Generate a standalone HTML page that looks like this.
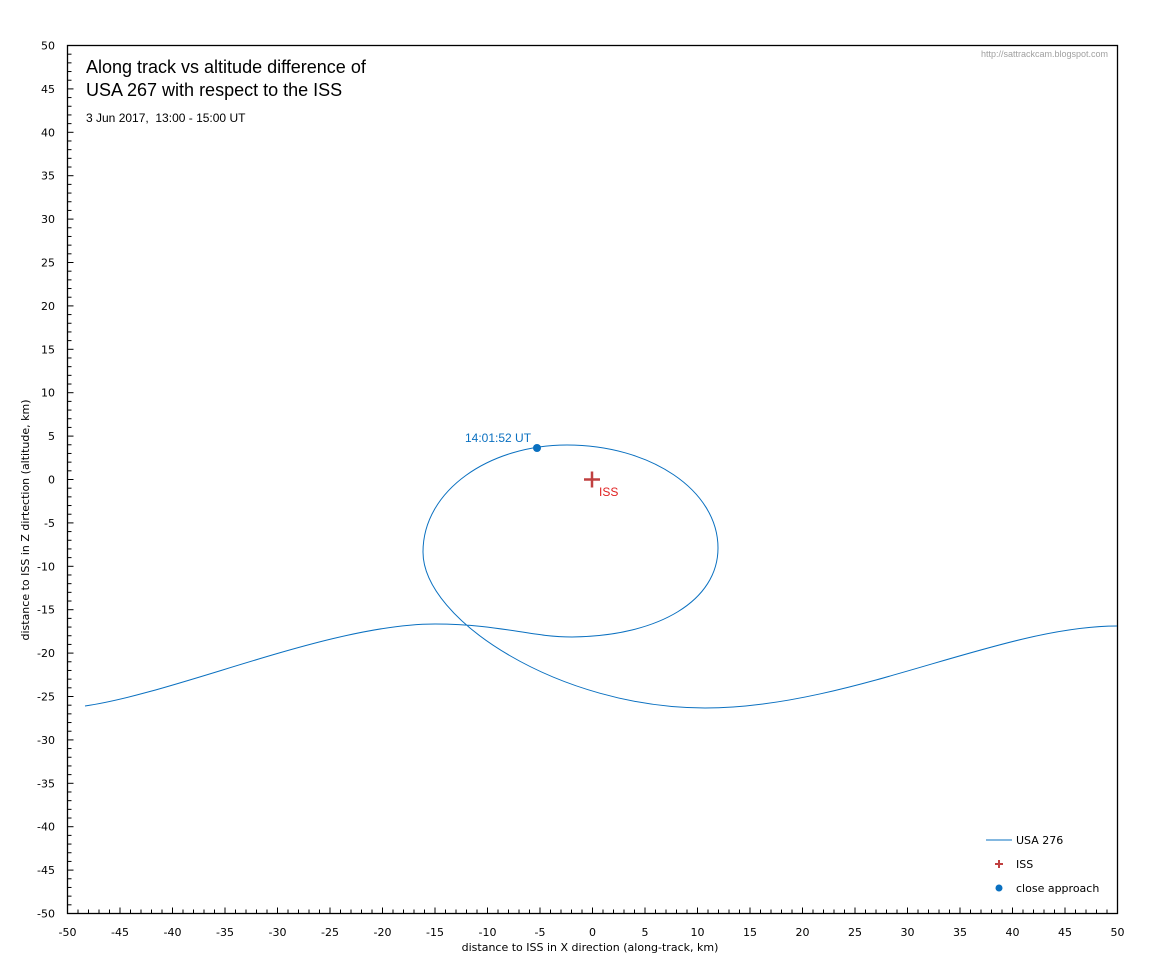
<!DOCTYPE html>
<html><head><meta charset="utf-8"><style>
html,body{margin:0;padding:0;background:#fff;}
svg{display:block;font-family:"DejaVu Sans","Liberation Sans",sans-serif;}
</style></head><body>
<svg id="s" width="1166" height="959" xmlns="http://www.w3.org/2000/svg">
<rect x="0" y="0" width="1166" height="959" fill="#fff"/>
<g id="ticks" stroke="#000" stroke-width="1"></g>
<g id="labels" font-size="11" fill="#000"></g>
<rect x="67.5" y="45.5" width="1050" height="868" fill="none" stroke="#000" stroke-width="1.3"/>
<path d="M85,706 C180,692 330,624 435,624 C500,624 530,637 572,637 C660,636 718,600 718,548 C718,490 650,445 567,445 C490,445 423,490 423,552 C423,620 560,708 705,708 C850,708 1000,626 1117,626" fill="none" stroke="#0a70c0" stroke-width="1"/>
<circle cx="537" cy="448" r="4" fill="#0a70c0"/>
<text x="465" y="442" font-family="Liberation Sans,sans-serif" font-size="12" fill="#0a70c0">14:01:52 UT</text>
<path d="M584,479.5 H600 M592,471.5 V487.5" stroke="#c04040" stroke-width="2.5"/>
<text x="599" y="496" font-family="Liberation Sans,sans-serif" font-size="12" fill="#e02020">ISS</text>
<text x="86" y="73" font-family="Liberation Sans,sans-serif" font-size="18">Along track vs altitude difference of</text>
<text x="86" y="96" font-family="Liberation Sans,sans-serif" font-size="18">USA 267 with respect to the ISS</text>
<text x="86" y="122" font-family="Liberation Sans,sans-serif" font-size="12">3 Jun 2017, &#160;13:00 - 15:00 UT</text>
<text x="1108" y="57" text-anchor="end" font-family="Liberation Sans,sans-serif" font-size="9" fill="#a0a0a0">http://sattrackcam.blogspot.com</text>
<line x1="986" y1="840" x2="1012" y2="840" stroke="#0a70c0" stroke-width="1"/>
<text x="1016" y="844" font-size="11">USA 276</text>
<path d="M995,864 H1003 M999,860 V868" stroke="#c04040" stroke-width="2"/>
<text x="1016" y="868" font-size="11">ISS</text>
<circle cx="999" cy="888" r="3.5" fill="#0a70c0"/>
<text x="1016" y="892" font-size="11">close approach</text>
<text x="590" y="951" text-anchor="middle" font-size="11">distance to ISS in X direction  (along-track, km)</text>
<text transform="translate(29,520) rotate(-90)" text-anchor="middle" font-size="11">distance to ISS in Z dirtection   (altitude, km)</text>
</svg>
<script>
var t=document.getElementById('ticks'),l=document.getElementById('labels'),ns='http://www.w3.org/2000/svg';
function ln(x1,y1,x2,y2){var e=document.createElementNS(ns,'line');e.setAttribute('x1',x1);e.setAttribute('y1',y1);e.setAttribute('x2',x2);e.setAttribute('y2',y2);t.appendChild(e);}
function tx(x,y,s,a){var e=document.createElementNS(ns,'text');e.setAttribute('x',x);e.setAttribute('y',y);e.setAttribute('text-anchor',a);e.textContent=s;l.appendChild(e);}
for(var v=-50;v<=50;v++){
 var x=67.5+(v+50)*10.5, y=45.5+(50-v)*8.68, maj=(v%5==0);
 ln(x,913.5,x,913.5-(maj?6:4));
 ln(67.5,y,67.5+(maj?6:4),y);
 if(maj){tx(x,936,String(v),'middle');tx(55,y+4,String(v),'end');}
}
</script>
</body></html>
